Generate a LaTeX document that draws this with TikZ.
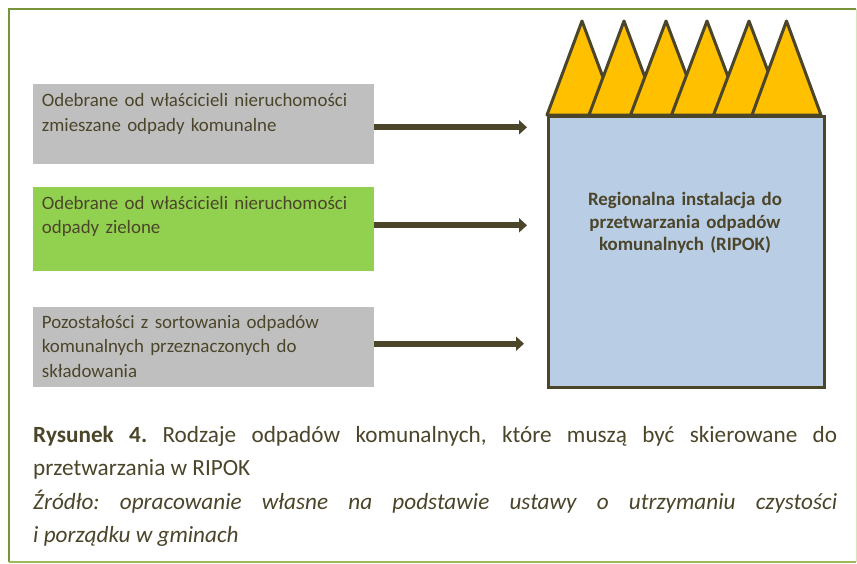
\documentclass[tikz,border=0pt]{standalone}
\usepackage{fontspec}
\setmainfont{Carlito}
\usetikzlibrary{arrows.meta}

\definecolor{olivetext}{HTML}{4B452A}
\definecolor{framegreen}{HTML}{77933C}
\definecolor{framelight}{HTML}{9BBB59}
\definecolor{framepale}{HTML}{D7E4BD}
\definecolor{boxgray}{HTML}{BFBFBF}
\definecolor{boxgreen}{HTML}{92D050}
\definecolor{plantblue}{HTML}{B9CDE5}
\definecolor{roofyellow}{HTML}{FFC000}

\tikzset{
  srcbox/.style={draw=none, inner sep=0pt, minimum width=341pt, anchor=north west},
  srctext/.style={anchor=base west, inner sep=0pt, text width=330pt, align=left,
    text=olivetext, font=\fontsize{18.9}{24.5}\selectfont},
  feed/.style={draw=olivetext, line width=6pt,
    -{Triangle[length=8pt,width=14pt]}},
  roof/.style={draw=olivetext, fill=roofyellow, line width=3pt, line join=round},
  captext/.style={anchor=base west, inner sep=0pt, text width=804pt, align=justify,
    text=olivetext, font=\fontsize{23.2}{33.5}\selectfont},
}

\begin{document}
\begin{tikzpicture}[x=1pt, y=-1pt]
  \useasboundingbox (0,0) rectangle (857,563);
  \fill[white] (0,0) rectangle (857,563);

  % outer frame
  \draw[framegreen, line width=2pt] (8.5,561.5) -- (8.5,8.5) -- (856,8.5);
  \draw[framelight, line width=2pt] (8.5,561.5) -- (856,561.5);
  \draw[framepale, line width=1pt] (856,8.5) -- (856,561.5);

  % input streams
  \node[srcbox, fill=boxgray, minimum height=80pt] (b1) at (33,84) {};
  \node[srcbox, fill=boxgreen, minimum height=84pt] (b2) at (33,187) {};
  \node[srcbox, fill=boxgray, minimum height=80pt] (b3) at (33,307) {};

  \node[srctext] (l1) at (41.7,106.7)
    {Odebrane od właścicieli nieruchomości\\zmieszane odpady komunalne};
  \node[srctext] (l2) at (41.7,209.3)
    {Odebrane od właścicieli nieruchomości\\odpady zielone};
  \node[srctext] (l3) at (41.7,328.3)
    {Pozostałości z sortowania odpadów\\komunalnych przeznaczonych do\\składowania};

  % roof of the installation
  \foreach \ax/\hw in {582/35, 624/35, 666/35.5, 707/35.5, 749/35.5, 786.5/34.5}
    \draw[roof] (\ax-\hw,115) -- (\ax,21) -- (\ax+\hw,115) -- cycle;

  % installation
  \node[draw=olivetext, fill=plantblue, line width=3pt, inner sep=0pt,
        minimum width=276pt, minimum height=271pt, anchor=north west]
        (ripok) at (547,115) {};
  \node[anchor=base, inner sep=0pt, text width=260pt, align=center, text=olivetext,
        font=\fontsize{18.9}{22.5}\selectfont\bfseries] (rlab) at (685,205.5)
    {Regionalna instalacja do\\przetwarzania odpadów\\komunalnych (RIPOK)};

  % feed arrows
  \coordinate (t1) at (527,127.3);
  \coordinate (t2) at (527,225.3);
  \coordinate (t3) at (524,343.7);
  \draw[feed] (b1.east |- t1) -- (t1);
  \draw[feed] (b2.east |- t2) -- (t2);
  \draw[feed] (b3.east |- t3) -- (t3);

  % caption
  \node[captext] (cap1) at (33,442)
    {\frenchspacing\hyphenpenalty=10000\exhyphenpenalty=10000%
     \textbf{Rysunek 4.} Rodzaje odpadów komunalnych, które muszą być skierowane do\linebreak
     przetwarzania w RIPOK};
  \node[captext] (cap2) at (33,509)
    {\frenchspacing\hyphenpenalty=10000\exhyphenpenalty=10000\itshape
     Źródło: opracowanie własne na podstawie ustawy o utrzymaniu czystości\linebreak
     i porządku w gminach};
\end{tikzpicture}
\end{document}
